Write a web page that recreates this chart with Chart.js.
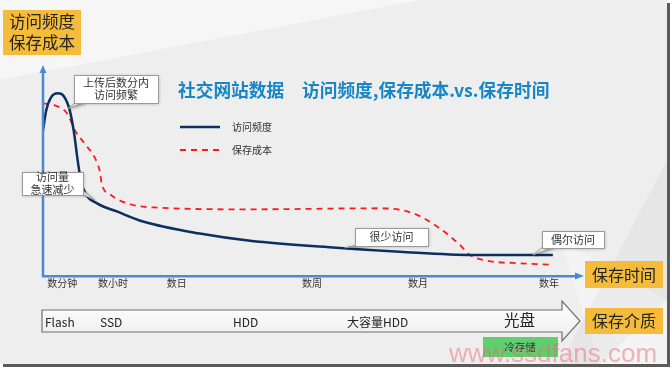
<!DOCTYPE html>
<html>
<head>
<meta charset="utf-8">
<script src="https://cdn.jsdelivr.net/npm/chart.js@4.4.0/dist/chart.umd.min.js"></script>
<style>
html, body { margin: 0; padding: 0; background: #ffffff; }
canvas { display: block; }
</style>
</head>
<body>
<canvas id="chart" width="672" height="370"></canvas>
<script>
// x: 0..100 across the time axis, y: 0..100 up the y axis
const accessX = [0, 0.6, 1.5, 2.8, 3.9, 5.0, 5.8, 6.5, 7.1, 8.0, 10.1, 13.8, 18.7, 29.3, 38.7, 54.8, 66.7, 80.4, 95.3];
const accessY = [68.9, 78.5, 84.7, 86.6, 85.2, 78.5, 67.9, 54.5, 45.0, 38.8, 34.4, 30.6, 25.8, 20.1, 16.7, 13.4, 11.5, 10.0, 10.0];

const costX = [0, 2.2, 4.5, 6.0, 7.8, 9.7, 10.6, 11.0, 12.5, 16.3, 20.6, 38.7, 63.0, 69.2, 74.2, 77.9, 79.8, 83.0, 87.9, 95.3];
const costY = [81.8, 80.9, 77.0, 68.9, 62.7, 56.0, 49.8, 43.5, 38.8, 34.0, 32.5, 31.6, 32.1, 29.7, 22.5, 14.8, 10.0, 7.2, 6.2, 5.3];

const tickValues = [3.6, 13.1, 25.0, 50.3, 70.1, 94.6];
const tickLabels = ["数分钟", "数小时", "数日", "数周", "数月", "数年"];

const seriesNames = ["访问频度", "保存成本"];
const mediaLabels = ["Flash", "SSD", "HDD", "大容量HDD", "光盘"];

const CJK = '"Noto Sans CJK SC", "Noto Sans", sans-serif';
const axisBlue = "#4a8ad4";

function callout(ctx, box, lines, tip, base) {
    ctx.save();
    ctx.shadowColor = "rgba(0,0,0,0.25)";
    ctx.shadowBlur = 3;
    ctx.shadowOffsetX = 1;
    ctx.shadowOffsetY = 1;
    ctx.fillStyle = "#ffffff";
    ctx.strokeStyle = "#9a9a9a";
    ctx.lineWidth = 1;
    ctx.beginPath();
    ctx.moveTo(base[0], base[1]);
    ctx.lineTo(tip[0], tip[1]);
    ctx.lineTo(base[2], base[3]);
    ctx.closePath();
    ctx.fill();
    ctx.stroke();
    ctx.fillRect(box[0], box[1], box[2], box[3]);
    ctx.shadowColor = "transparent";
    ctx.strokeRect(box[0] + 0.5, box[1] + 0.5, box[2], box[3]);
    ctx.restore();
    ctx.fillStyle = "#333333";
    ctx.font = "11px " + CJK;
    ctx.textAlign = "center";
    ctx.textBaseline = "middle";
    const lh = 12.5;
    const cy = box[1] + box[3] / 2 - (lines.length - 1) * lh / 2;
    lines.forEach((t, i) => ctx.fillText(t, box[0] + box[2] / 2, cy + i * lh));
}

function orangeBox(ctx, x, y, w, h, lines, size) {
    ctx.fillStyle = "#f5bc3c";
    ctx.fillRect(x, y, w, h);
    ctx.fillStyle = "#222222";
    ctx.font = size + "px " + CJK;
    ctx.textAlign = "center";
    ctx.textBaseline = "middle";
    const lh = size * 1.25;
    const cy = y + h / 2 - (lines.length - 1) * lh / 2;
    lines.forEach((t, i) => ctx.fillText(t, x + w / 2, cy + i * lh));
}

const slidePlugin = {
    id: "slide",
    beforeDraw(chart) {
        const ctx = chart.ctx;
        ctx.save();
        ctx.fillStyle = "#ffffff";
        ctx.fillRect(0, 0, 672, 370);
        // shadow of slide
        ctx.fillStyle = "#5a5a5a";
        ctx.fillRect(3, 3, 667, 364);
        ctx.fillStyle = "#eeeeee";
        ctx.fillRect(0, 0, 667, 364);
        // faint lighter shapes
        ctx.fillStyle = "rgba(255,255,255,0.45)";
        ctx.beginPath();
        ctx.moveTo(0, 0); ctx.lineTo(420, 0); ctx.lineTo(0, 80); ctx.closePath();
        ctx.fill();
        ctx.fillStyle = "rgba(255,255,255,0.35)";
        ctx.beginPath();
        ctx.moveTo(560, 240); ctx.lineTo(667, 300); ctx.lineTo(667, 364); ctx.lineTo(600, 364); ctx.closePath();
        ctx.fill();
        ctx.fillStyle = "rgba(0,0,0,0.03)";
        ctx.beginPath();
        ctx.moveTo(667, 160); ctx.lineTo(667, 300); ctx.lineTo(600, 364); ctx.lineTo(560, 364); ctx.closePath();
        ctx.fill();
        ctx.restore();
    },
    afterDraw(chart) {
        const ctx = chart.ctx;
        const area = chart.chartArea;
        const xs = chart.scales.x;
        const ys = chart.scales.y;
        ctx.save();

        // y axis with arrow
        ctx.strokeStyle = axisBlue;
        ctx.fillStyle = axisBlue;
        ctx.lineWidth = 2.5;
        ctx.beginPath();
        ctx.moveTo(area.left, area.bottom + 1);
        ctx.lineTo(area.left, area.top + 4);
        ctx.stroke();
        ctx.beginPath();
        ctx.moveTo(area.left, area.top);
        ctx.lineTo(area.left - 3.5, area.top + 8);
        ctx.lineTo(area.left + 3.5, area.top + 8);
        ctx.closePath();
        ctx.fill();
        // x axis arrow head
        ctx.beginPath();
        ctx.moveTo(area.right + 6, area.bottom);
        ctx.lineTo(area.right - 3, area.bottom - 3.5);
        ctx.lineTo(area.right - 3, area.bottom + 3.5);
        ctx.closePath();
        ctx.fill();

        // title
        ctx.fillStyle = "#1786c6";
        ctx.font = "bold 17.7px " + CJK;
        ctx.textAlign = "left";
        ctx.textBaseline = "middle";
        ctx.fillText("社交网站数据", 178, 90);
        ctx.fillText("访问频度,保存成本.vs.保存时间", 302, 90);

        // legend
        ctx.lineWidth = 2.5;
        ctx.strokeStyle = "#0d2f5f";
        ctx.beginPath(); ctx.moveTo(180, 127); ctx.lineTo(220, 127); ctx.stroke();
        ctx.lineWidth = 1.8;
        ctx.strokeStyle = "#ff1a1a";
        ctx.setLineDash([6, 5]);
        ctx.beginPath(); ctx.moveTo(180, 150); ctx.lineTo(220, 150); ctx.stroke();
        ctx.setLineDash([]);
        ctx.fillStyle = "#333333";
        ctx.font = "10px " + CJK;
        ctx.fillText(seriesNames[0], 232, 127);
        ctx.fillText(seriesNames[1], 232, 150);

        // callouts, tips anchored in data units
        const tip = (x, y) => [xs.getPixelForValue(x), ys.getPixelForValue(y)];
        callout(ctx, [74, 75, 84, 28], ["上传后数分内", "访问频繁"], tip(4.7, 79.4), [76, 102, 86, 102]);
        callout(ctx, [22, 172, 61, 23], ["访问量", "急速减少"], tip(9.7, 35.9), [80, 188, 82, 194]);
        callout(ctx, [355, 228, 73, 18], ["很少访问"], tip(56.4, 13.4), [358, 245, 368, 245]);
        callout(ctx, [542, 231, 62, 17], ["偶尔访问"], tip(91.6, 10.0), [544, 246, 554, 247]);

        // axis name boxes
        orangeBox(ctx, 3, 10, 78, 45, ["访问频度", "保存成本"], 16.5);
        orangeBox(ctx, 585, 261, 78, 27, ["保存时间"], 16);
        orangeBox(ctx, 585, 308, 78, 26, ["保存介质"], 16);

        // storage media arrow
        const grad = ctx.createLinearGradient(0, 301, 0, 341);
        grad.addColorStop(0, "#ffffff");
        grad.addColorStop(1, "#ececec");
        ctx.fillStyle = grad;
        ctx.strokeStyle = "#6f6f6f";
        ctx.lineWidth = 1.2;
        ctx.beginPath();
        ctx.moveTo(42, 310);
        ctx.lineTo(562, 310);
        ctx.lineTo(562, 301);
        ctx.lineTo(580, 321);
        ctx.lineTo(562, 341);
        ctx.lineTo(562, 332);
        ctx.lineTo(42, 332);
        ctx.closePath();
        ctx.fill();
        ctx.stroke();

        ctx.fillStyle = "#222222";
        ctx.textAlign = "left";
        ctx.textBaseline = "middle";
        ctx.font = "12px " + CJK;
        ctx.fillText(mediaLabels[0], 45, 322);
        ctx.fillText(mediaLabels[1], 100, 322);
        ctx.fillText(mediaLabels[2], 233, 322);
        ctx.fillText(mediaLabels[3], 347, 322);
        ctx.font = "15.5px " + CJK;
        ctx.fillText(mediaLabels[4], 504, 320);

        // cold storage tag
        ctx.fillStyle = "#5fcf6f";
        ctx.fillRect(483, 337, 75, 20);
        ctx.fillStyle = "#333333";
        ctx.font = "10.5px " + CJK;
        ctx.textAlign = "center";
        ctx.fillText("冷存储", 520, 347);

        // watermark
        ctx.fillStyle = "rgba(238,105,120,0.5)";
        ctx.font = "26px 'Liberation Sans', Arial, sans-serif";
        ctx.textAlign = "left";
        ctx.textBaseline = "alphabetic";
        ctx.fillText("www.ssdfans.com", 449, 362);

        ctx.restore();
    }
};

const chart = new Chart(document.getElementById("chart"), {
    type: "line",
    data: {
        datasets: [
            {
                label: seriesNames[0],
                data: accessX.map((x, i) => ({ x: x, y: accessY[i] })),
                borderColor: "#0d2f5f",
                borderWidth: 2.5,
                pointRadius: 0,
                fill: false,
                cubicInterpolationMode: "monotone",
            },
            {
                label: seriesNames[1],
                data: costX.map((x, i) => ({ x: x, y: costY[i] })),
                borderColor: "#ff1a1a",
                borderWidth: 1.8,
                borderDash: [6, 5],
                pointRadius: 0,
                fill: false,
                cubicInterpolationMode: "monotone",
            },
        ],
    },
    options: {
        responsive: false,
        animation: false,
        layout: { padding: { left: 43, top: 65, right: 94, bottom: 80 } },
        plugins: {
            legend: { display: false },
            tooltip: { enabled: false },
        },
        scales: {
            x: {
                type: "linear",
                min: 0,
                max: 100,
                grid: { display: false, drawTicks: false },
                border: { display: true, color: axisBlue, width: 2.5 },
                afterBuildTicks: (axis) => {
                    axis.ticks = tickValues.map((v) => ({ value: v }));
                },
                ticks: {
                    autoSkip: false,
                    maxRotation: 0,
                    padding: 1,
                    color: "#333333",
                    font: { size: 10, family: CJK },
                    callback: (v, i) => tickLabels[i],
                },
            },
            y: {
                display: false,
                min: 0,
                max: 100,
            },
        },
    },
    plugins: [slidePlugin],
});
</script>
</body>
</html>
